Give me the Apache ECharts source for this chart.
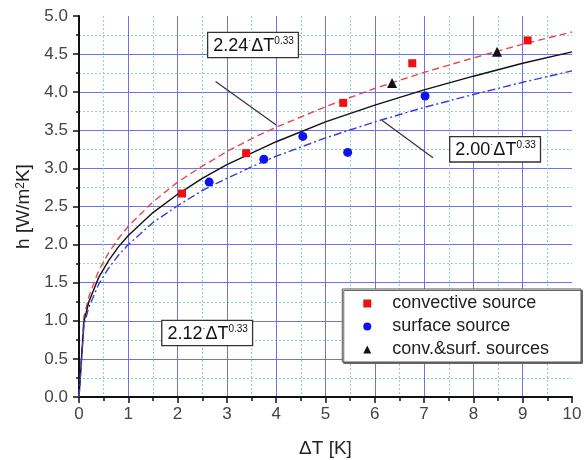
<!DOCTYPE html>
<html>
<head>
<meta charset="utf-8">
<script src="https://cdn.jsdelivr.net/npm/echarts@6/dist/echarts.min.js"></script>
<style>
  html, body { margin: 0; padding: 0; background: #fff; }
  #main { width: 584px; height: 460px; }
</style>
</head>
<body>
<div id="main"></div>
<script>
// fitted curves (h vs dT)
const curveX = [0, 0.1, 0.2, 0.4, 0.6, 0.8, 1, 1.5, 2, 2.5, 3, 3.5, 4, 5, 6, 7, 8, 9, 10]
const fitHigh = [0, 1.05, 1.32, 1.66, 1.89, 2.08, 2.24, 2.56, 2.82, 3.03, 3.22, 3.39, 3.54, 3.81, 4.05, 4.26, 4.45, 4.63, 4.79]
const fitMid = [0, 0.99, 1.25, 1.57, 1.79, 1.97, 2.12, 2.42, 2.66, 2.87, 3.05, 3.2, 3.35, 3.61, 3.83, 4.03, 4.21, 4.38, 4.53]
const fitLow = [0, 0.94, 1.18, 1.48, 1.69, 1.86, 2.0, 2.29, 2.51, 2.71, 2.87, 3.02, 3.16, 3.4, 3.61, 3.8, 3.97, 4.13, 4.28]

// measured points
const convX = [2.09, 3.39, 5.36, 6.76, 9.1]
const convY = [2.67, 3.2, 3.86, 4.38, 4.68]
const surfX = [2.64, 3.75, 4.54, 5.45, 7.02]
const surfY = [2.82, 3.12, 3.42, 3.21, 3.95]
const bothX = [6.35, 8.48]
const bothY = [4.12, 4.53]

// annotation labels and pointers (data coords)
const noteCoef = ['2.24', '2.00', '2.12']
const noteX = [3.53, 8.44, 2.6]
const noteY = [4.62, 3.25, 0.84]
const pointerA = [[2.77, 4.14], [4.0, 3.57]]
const pointerB = [[6.15, 3.63], [7.18, 3.14]]

const legendNames = ['convective source', 'surface source', 'conv.&surf. sources']

const zip = (xs, ys) => xs.map((x, i) => [x, ys[i]])
const font = 'Arial, "Liberation Sans", sans-serif'

const chart = echarts.init(document.getElementById('main'))

const fitLine = (data, color, type) => ({
  type: 'line',
  data: zip(curveX, data),
  symbol: 'none',
  silent: true,
  lineStyle: { color: color, width: 1.4, type: type },
  z: 3
})

const pointer = (pts) => ({
  type: 'line',
  data: pts,
  symbol: 'none',
  silent: true,
  lineStyle: { color: '#333', width: 1.2 },
  z: 4
})

chart.setOption({
  animation: false,
  textStyle: { fontFamily: font },
  grid: { left: 79, right: 12, top: 16, bottom: 63, outerBoundsMode: 'none' },
  legend: {
    data: legendNames,
    orient: 'vertical',
    right: 3,
    top: 289,
    padding: [5, 32, 3, 21],
    itemGap: 4,
    itemWidth: 8,
    itemHeight: 8,
    backgroundColor: '#fff',
    borderColor: '#555',
    borderWidth: 1,
    shadowColor: '#666',
    shadowOffsetX: 1.5,
    shadowOffsetY: 1.5,
    formatter: name => '{g|}' + name,
    textStyle: {
      fontSize: 18,
      lineHeight: 19,
      color: '#222',
      fontFamily: font,
      rich: { g: { width: 16 } }
    }
  },
  xAxis: {
    type: 'value',
    min: 0,
    max: 10,
    interval: 1,
    name: 'ΔT [K]',
    nameLocation: 'middle',
    nameGap: 42,
    nameTextStyle: { fontSize: 19, color: '#222' },
    axisLine: { onZero: false, lineStyle: { color: '#111', width: 2 } },
    axisTick: { length: 6, lineStyle: { color: '#111', width: 1.5 } },
    minorTick: { show: true, splitNumber: 2, length: 4, lineStyle: { color: '#111', width: 1.5 } },
    axisLabel: { fontSize: 17, color: '#444', margin: 9 },
    splitLine: { show: true, showMaxLine: false, lineStyle: { color: '#7070e8', width: 1 } },
    minorSplitLine: { show: true, lineStyle: { color: '#8fcfc4', width: 1, type: [2, 2] } }
  },
  yAxis: {
    type: 'value',
    min: 0,
    max: 5,
    interval: 0.5,
    name: '{t|h [W/m}{s|2}{t|K]}',
    nameLocation: 'middle',
    nameGap: 41,
    nameTextStyle: {
      rich: {
        t: { fontSize: 19, color: '#222', fontFamily: font },
        s: { fontSize: 12, color: '#222', verticalAlign: 'top', fontFamily: font }
      }
    },
    axisLine: { onZero: false, lineStyle: { color: '#111', width: 2 } },
    axisTick: { length: 6, lineStyle: { color: '#111', width: 1.5 } },
    minorTick: { show: true, splitNumber: 2, length: 3, lineStyle: { color: '#111', width: 1.5 } },
    axisLabel: { fontSize: 17, color: '#444', margin: 11, formatter: v => v.toFixed(1) },
    splitLine: { show: true, showMaxLine: false, lineStyle: { color: '#7070e8', width: 1 } },
    minorSplitLine: { show: true, lineStyle: { color: '#8fcfc4', width: 1, type: [2, 2] } }
  },
  series: [
    fitLine(fitHigh, '#e8474a', [7, 4]),
    fitLine(fitMid, '#111', 'solid'),
    fitLine(fitLow, '#3b3be0', [8, 3, 2, 3]),
    pointer(pointerA),
    pointer(pointerB),
    {
      name: legendNames[0],
      type: 'scatter',
      data: zip(convX, convY),
      symbol: 'rect',
      symbolSize: 8,
      itemStyle: { color: '#f01010', opacity: 1 },
      z: 5
    },
    {
      name: legendNames[1],
      type: 'scatter',
      data: zip(surfX, surfY),
      symbol: 'circle',
      symbolSize: 9,
      itemStyle: { color: '#1010f0', opacity: 1 },
      z: 5
    },
    {
      name: legendNames[2],
      type: 'scatter',
      data: zip(bothX, bothY),
      symbol: 'triangle',
      symbolSize: 10,
      itemStyle: { color: '#111', opacity: 1 },
      z: 5
    },
    {
      type: 'scatter',
      silent: true,
      symbolSize: 1,
      itemStyle: { color: 'rgba(0,0,0,0)', opacity: 1 },
      data: noteX.map((x, i) => ({ value: [x, noteY[i]], coef: noteCoef[i] })),
      label: {
        show: true,
        position: 'inside',
        formatter: p => '{n|' + p.data.coef + '}{d|·}{n|ΔT}{s|0.33}',
        backgroundColor: '#ffffff',
        borderColor: '#333',
        borderWidth: 1.3,
        padding: [3, 4, 1, 5],
        rich: {
          n: { fontSize: 18, color: '#111', fontFamily: font, lineHeight: 20 },
          d: { fontSize: 9, color: '#111', fontFamily: font, verticalAlign: 'top' },
          s: { fontSize: 10, color: '#111', fontFamily: font, verticalAlign: 'top' }
        }
      },
      z: 6
    }
  ]
})
</script>
</body>
</html>
